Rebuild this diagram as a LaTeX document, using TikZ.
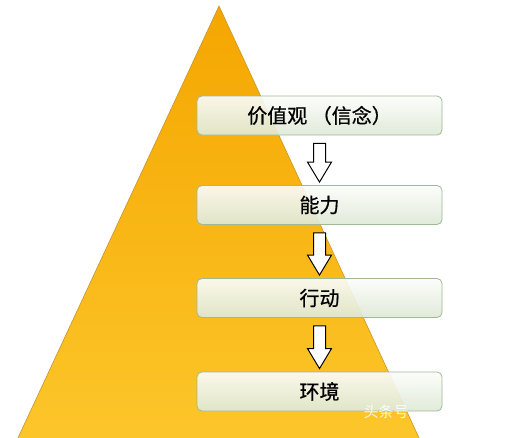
\documentclass[tikz,border=0pt]{standalone}
\usepackage{fontspec}
\newfontfamily\cjk[FakeBold=0.7]{Noto Sans CJK SC}
\newfontfamily\cjkdunn{Noto Sans CJK SC}
\usetikzlibrary{calc}

\definecolor{orangeoben}{RGB}{245,166,0}
\definecolor{gelbunten}{RGB}{252,198,42}
\definecolor{kante}{RGB}{200,150,40}
\definecolor{boxgruen}{RGB}{222,233,214}
\definecolor{boxrand}{RGB}{160,184,150}

\tikzset{
	kasten/.style={draw=boxrand,line width=0.8pt,rounded corners=5pt,
		minimum width=245pt,minimum height=39pt,
		top color=white!90!boxgruen,bottom color=boxgruen,
		fill opacity=0.92,text opacity=1,
		font=\cjk\fontsize{20}{24}\selectfont},
	pfeil/.style={draw=black,fill=white,line width=1pt,line join=miter}
}

\def\kasten#1#2#3{\node[kasten] (#1) at (319.5,#2) {#3};}
\def\pfeil#1#2{
	\draw[pfeil]
	($(#1.south)+(-6,8)$)--
	($(#2.north)+(-6,-23)$)--
	($(#2.north)+(-12,-23)$)--
	($(#2.north)+(0,-3)$)--
	($(#2.north)+(12,-23)$)--
	($(#2.north)+(6,-23)$)--
	($(#1.south)+(6,8)$)--cycle;
}

\begin{document}
\begin{tikzpicture}[x=1pt,y=-1pt]
\useasboundingbox (0,0) rectangle (512,437);

% Dreieck
\shade[top color=orangeoben,bottom color=gelbunten,draw=kante,line width=0.6pt]
(219,6)--(420,440)--(17,440)--cycle;

\kasten{wert}{115.5}{价值观 （信念）}
\kasten{kraft}{205}{能力}
\kasten{tat}{298}{行动}
\kasten{welt}{391.5}{环境}

\pfeil{wert}{kraft}
\pfeil{kraft}{tat}
\pfeil{tat}{welt}

\node[anchor=west,text=white,text opacity=0.85,font=\cjkdunn\fontsize{15}{15}\selectfont] (marke) at (360,412) {头条号};

\end{tikzpicture}
\end{document}
